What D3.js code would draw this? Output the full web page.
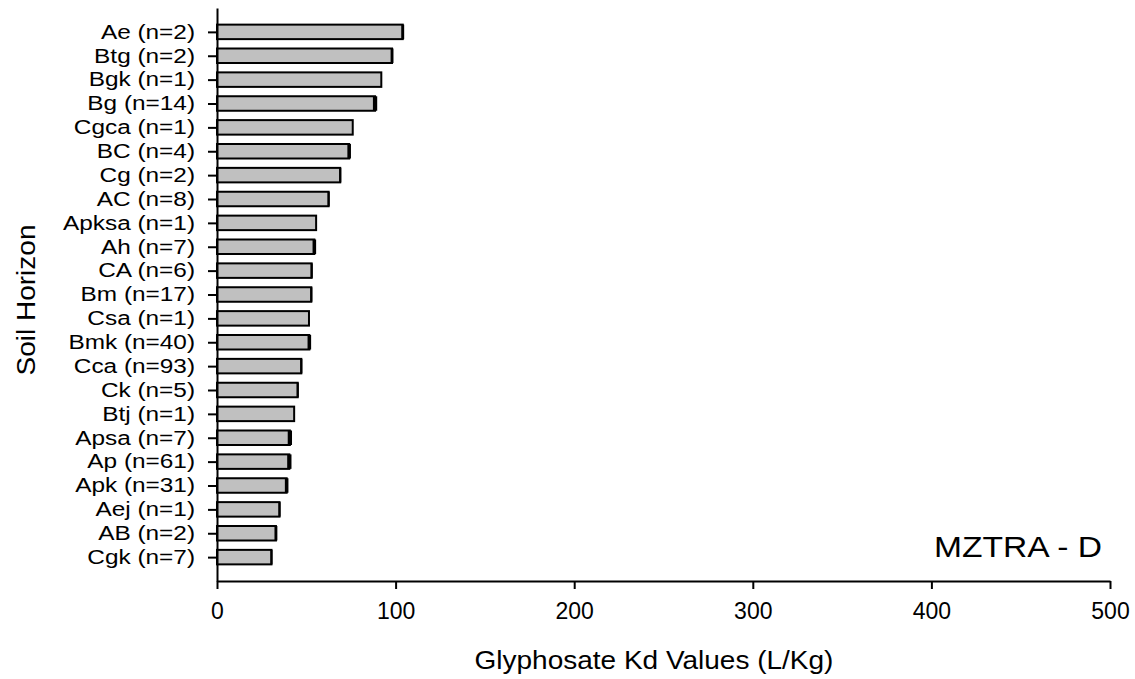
<!DOCTYPE html>
<html>
<head>
<meta charset="utf-8">
<script src="https://cdn.jsdelivr.net/npm/d3@7"></script>
<style>
  html, body { margin: 0; padding: 0; background: #fff; }
  svg { display: block; font-family: "Liberation Sans", Arial, sans-serif; }
</style>
</head>
<body>
<svg id="chart" width="1135" height="679"></svg>
<script>
// Soil horizons, top to bottom
const horizons = ["Ae (n=2)", "Btg (n=2)", "Bgk (n=1)", "Bg (n=14)", "Cgca (n=1)", "BC (n=4)",
  "Cg (n=2)", "AC (n=8)", "Apksa (n=1)", "Ah (n=7)", "CA (n=6)", "Bm (n=17)", "Csa (n=1)",
  "Bmk (n=40)", "Cca (n=93)", "Ck (n=5)", "Btj (n=1)", "Apsa (n=7)", "Ap (n=61)", "Apk (n=31)",
  "Aej (n=1)", "AB (n=2)", "Cgk (n=7)"];
// Mean glyphosate Kd (L/Kg)
const kdMean = [104, 98, 92, 88.5, 76, 74, 69, 62.5, 55.5, 54.5, 53, 52.8, 51.5,
  51.7, 47.2, 45.2, 43.2, 40.8, 40.5, 39, 35, 33, 30.5];
// Standard error (L/Kg)
const kdErr = [0.8, 0.8, 0, 1.2, 0, 1, 0.6, 0.6, 0, 1, 0.6, 0.6, 0,
  1, 0.6, 0.6, 0, 1.2, 1.2, 1, 0.6, 0.8, 0.6];
const xTicks = [0, 100, 200, 300, 400, 500];

const svg = d3.select("#chart");
const margin = { left: 217, right: 25, top: 8, bottom: 98 };
const W = 1135, H = 679;

const x = d3.scaleLinear().domain([0, 500]).range([margin.left, W - margin.right]);
const y = d3.scalePoint().domain(horizons).range([margin.top, H - margin.bottom]).padding(1);
const barH = 14.5;

// bars
svg.append("g").selectAll("rect").data(horizons).join("rect")
  .attr("x", x(0))
  .attr("y", d => y(d) - barH / 2)
  .attr("width", (d, i) => x(kdMean[i]) - x(0))
  .attr("height", barH)
  .attr("fill", "#c0c0c0")
  .attr("stroke", "#000")
  .attr("stroke-width", 2);

// error whiskers at bar ends
svg.append("g").selectAll("rect").data(horizons).join("rect")
  .attr("x", (d, i) => x(kdMean[i] - kdErr[i]))
  .attr("y", d => y(d) - barH / 2)
  .attr("width", (d, i) => Math.max(0, x(kdMean[i] + kdErr[i]) - x(kdMean[i] - kdErr[i])))
  .attr("height", barH)
  .attr("fill", "#000");

// y axis
const labelStretch = 1.25;
const yAxis = svg.append("g")
  .attr("transform", `translate(${x(0)},0)`)
  .call(d3.axisLeft(y).tickSize(9).tickPadding(13).tickSizeOuter(0));
yAxis.select(".domain").attr("stroke-width", 2);
yAxis.selectAll(".tick line").attr("stroke-width", 2);
yAxis.selectAll(".tick text")
  .attr("font-size", 19.5).attr("fill", "#000")
  .attr("font-family", "Liberation Sans, Arial, sans-serif")
  .attr("x", -22 / labelStretch)
  .attr("transform", `scale(${labelStretch},1)`);

// x axis
const xAxis = svg.append("g")
  .attr("transform", `translate(0,${H - margin.bottom})`)
  .call(d3.axisBottom(x).tickValues(xTicks).tickSize(8).tickPadding(14).tickSizeOuter(0));
xAxis.select(".domain").attr("stroke-width", 2);
xAxis.selectAll(".tick line").attr("stroke-width", 2);
xAxis.selectAll(".tick text").attr("font-size", 23).attr("fill", "#000")
  .attr("font-family", "Liberation Sans, Arial, sans-serif");

// axis titles
svg.append("text")
  .attr("transform", `translate(35,300) rotate(-90) scale(1.12,1)`)
  .attr("text-anchor", "middle")
  .attr("font-size", 25)
  .text("Soil Horizon");

svg.append("text")
  .attr("transform", `translate(654,669) scale(1.12,1)`)
  .attr("text-anchor", "middle")
  .attr("font-size", 25)
  .text("Glyphosate Kd Values (L/Kg)");

// panel label
svg.append("text")
  .attr("transform", `translate(1102,557) scale(1.12,1)`)
  .attr("text-anchor", "end")
  .attr("font-size", 30)
  .text("MZTRA - D");
</script>
</body>
</html>
